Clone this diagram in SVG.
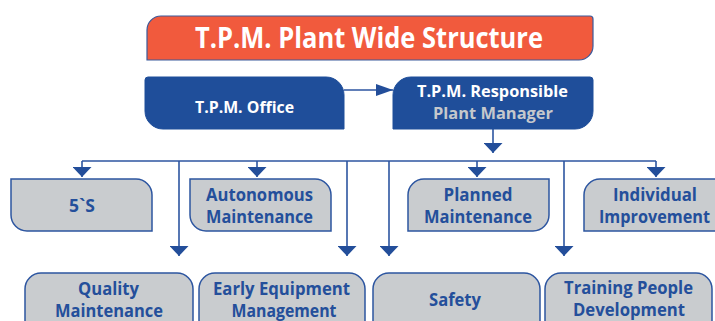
<svg xmlns="http://www.w3.org/2000/svg" width="715" height="321" viewBox="0 0 715 321">
<defs>
<style>
.t{font-family:"Open Sans","Noto Sans","Liberation Sans",sans-serif;font-weight:700;text-anchor:middle}
.dark{fill:#1f4e9a;stroke:#1f4e9a;stroke-width:1}
.gray{fill:#c9cccf;stroke:#2c55a0;stroke-width:1.5}
.gt{fill:#244f9b;font-size:17px}
.wt{fill:#ffffff;font-size:16px}
.ln{fill:none;stroke:#2c55a0;stroke-width:1.6}
</style>
<marker id="ad" viewBox="0 0 10 19" refX="10" refY="9.5" markerWidth="10" markerHeight="19" markerUnits="userSpaceOnUse" orient="auto"><path d="M0,0 L10,9.5 L0,19 Z" fill="#234e9a"/></marker>
<marker id="ar" viewBox="0 0 17 12" refX="17" refY="6" markerWidth="17" markerHeight="12" markerUnits="userSpaceOnUse" orient="auto"><path d="M0,0 L17,6 L0,12 Z" fill="#234e9a"/></marker>
</defs>
<rect width="715" height="321" fill="#ffffff"/>
<g id="connectors">
<path class="ln" d="M344,90 H393" marker-end="url(#ar)"/>
<path class="ln" d="M493,129 V153" marker-end="url(#ad)"/>
<path class="ln" d="M82,161 H656"/>
<path class="ln" d="M82,161 V177" marker-end="url(#ad)"/>
<path class="ln" d="M257,161 V177" marker-end="url(#ad)"/>
<path class="ln" d="M477,161 V177" marker-end="url(#ad)"/>
<path class="ln" d="M656,161 V177" marker-end="url(#ad)"/>
<path class="ln" d="M179,161 V256" marker-end="url(#ad)"/>
<path class="ln" d="M347,161 V256" marker-end="url(#ad)"/>
<path class="ln" d="M389,161 V256" marker-end="url(#ad)"/>
<path class="ln" d="M564,161 V256" marker-end="url(#ad)"/>
</g>
<g id="title">
<path d="M161,16 H590 A3,3 0 0 1 593,19 V46 A14,14 0 0 1 579,60 H147 V30 A14,14 0 0 1 161,16 Z" fill="#f15a3d" stroke="#3a5a9c" stroke-width="1.2"/>
<text class="t" x="369" y="48" fill="#ffffff" font-size="28" textLength="348" lengthAdjust="spacingAndGlyphs">T.P.M. Plant Wide Structure</text>
</g>
<g id="office">
<path class="dark" d="M148,77 H326 A18,18 0 0 1 344,95 V129 H163 A18,18 0 0 1 145,111 V80 A3,3 0 0 1 148,77 Z"/>
<text class="t wt" x="244.5" y="113" textLength="99" lengthAdjust="spacingAndGlyphs">T.P.M. Office</text>
</g>
<g id="responsible">
<path class="dark" d="M411,77 H590 A3,3 0 0 1 593,80 V111 A18,18 0 0 1 575,129 H393 V95 A18,18 0 0 1 411,77 Z"/>
<text class="t wt" x="492.5" y="97" textLength="151" lengthAdjust="spacingAndGlyphs">T.P.M. Responsible</text>
<text class="t" x="493" y="119" fill="#c5c8cc" font-size="16" textLength="120" lengthAdjust="spacingAndGlyphs">Plant Manager</text>
</g>
<g id="fives">
<path class="gray" d="M11,179 H136 A16,16 0 0 1 152,195 V231 H27 A16,16 0 0 1 11,215 Z"/>
<text class="t gt" x="82" y="212" textLength="26" lengthAdjust="spacingAndGlyphs">5`S</text>
</g>
<g id="autonomous">
<path class="gray" d="M190,179 H315 A16,16 0 0 1 331,195 V231 H206 A16,16 0 0 1 190,215 Z"/>
<text class="t gt" x="259.5" y="200.5" textLength="107" lengthAdjust="spacingAndGlyphs">Autonomous</text>
<text class="t gt" x="259.5" y="222.5" textLength="107" lengthAdjust="spacingAndGlyphs">Maintenance</text>
</g>
<g id="planned">
<path class="gray" d="M424,179 H549 V215 A16,16 0 0 1 533,231 H408 V195 A16,16 0 0 1 424,179 Z"/>
<text class="t gt" x="478" y="200.5" textLength="69" lengthAdjust="spacingAndGlyphs">Planned</text>
<text class="t gt" x="478" y="222.5" textLength="108" lengthAdjust="spacingAndGlyphs">Maintenance</text>
</g>
<g id="individual">
<path class="gray" d="M600,179 H722 V231 H584 V195 A16,16 0 0 1 600,179 Z"/>
<text class="t gt" x="655" y="200.5" textLength="84" lengthAdjust="spacingAndGlyphs">Individual</text>
<text class="t gt" x="654.5" y="222.5" textLength="111" lengthAdjust="spacingAndGlyphs">Improvement</text>
</g>
<g id="quality">
<path class="gray" d="M25,340 V289 A16,16 0 0 1 41,273 H177 A16,16 0 0 1 193,289 V340"/>
<text class="t gt" x="108.5" y="295" textLength="61" lengthAdjust="spacingAndGlyphs">Quality</text>
<text class="t gt" x="109" y="317" textLength="108" lengthAdjust="spacingAndGlyphs">Maintenance</text>
</g>
<g id="early">
<path class="gray" d="M199,340 V289 A16,16 0 0 1 215,273 H349 A16,16 0 0 1 365,289 V340"/>
<text class="t gt" x="281.5" y="295" textLength="137" lengthAdjust="spacingAndGlyphs">Early Equipment</text>
<text class="t gt" x="284" y="317" textLength="105" lengthAdjust="spacingAndGlyphs">Management</text>
</g>
<g id="safety">
<path class="gray" d="M373,340 V289 A16,16 0 0 1 389,273 H524 A16,16 0 0 1 540,289 V340"/>
<text class="t gt" x="455" y="305.5" textLength="52" lengthAdjust="spacingAndGlyphs">Safety</text>
</g>
<g id="training">
<path class="gray" d="M545,340 V289 A16,16 0 0 1 561,273 H696 A16,16 0 0 1 712,289 V340"/>
<text class="t gt" x="628.5" y="294" textLength="129" lengthAdjust="spacingAndGlyphs">Training People</text>
<text class="t gt" x="629" y="316" textLength="112" lengthAdjust="spacingAndGlyphs">Development</text>
</g>
</svg>
